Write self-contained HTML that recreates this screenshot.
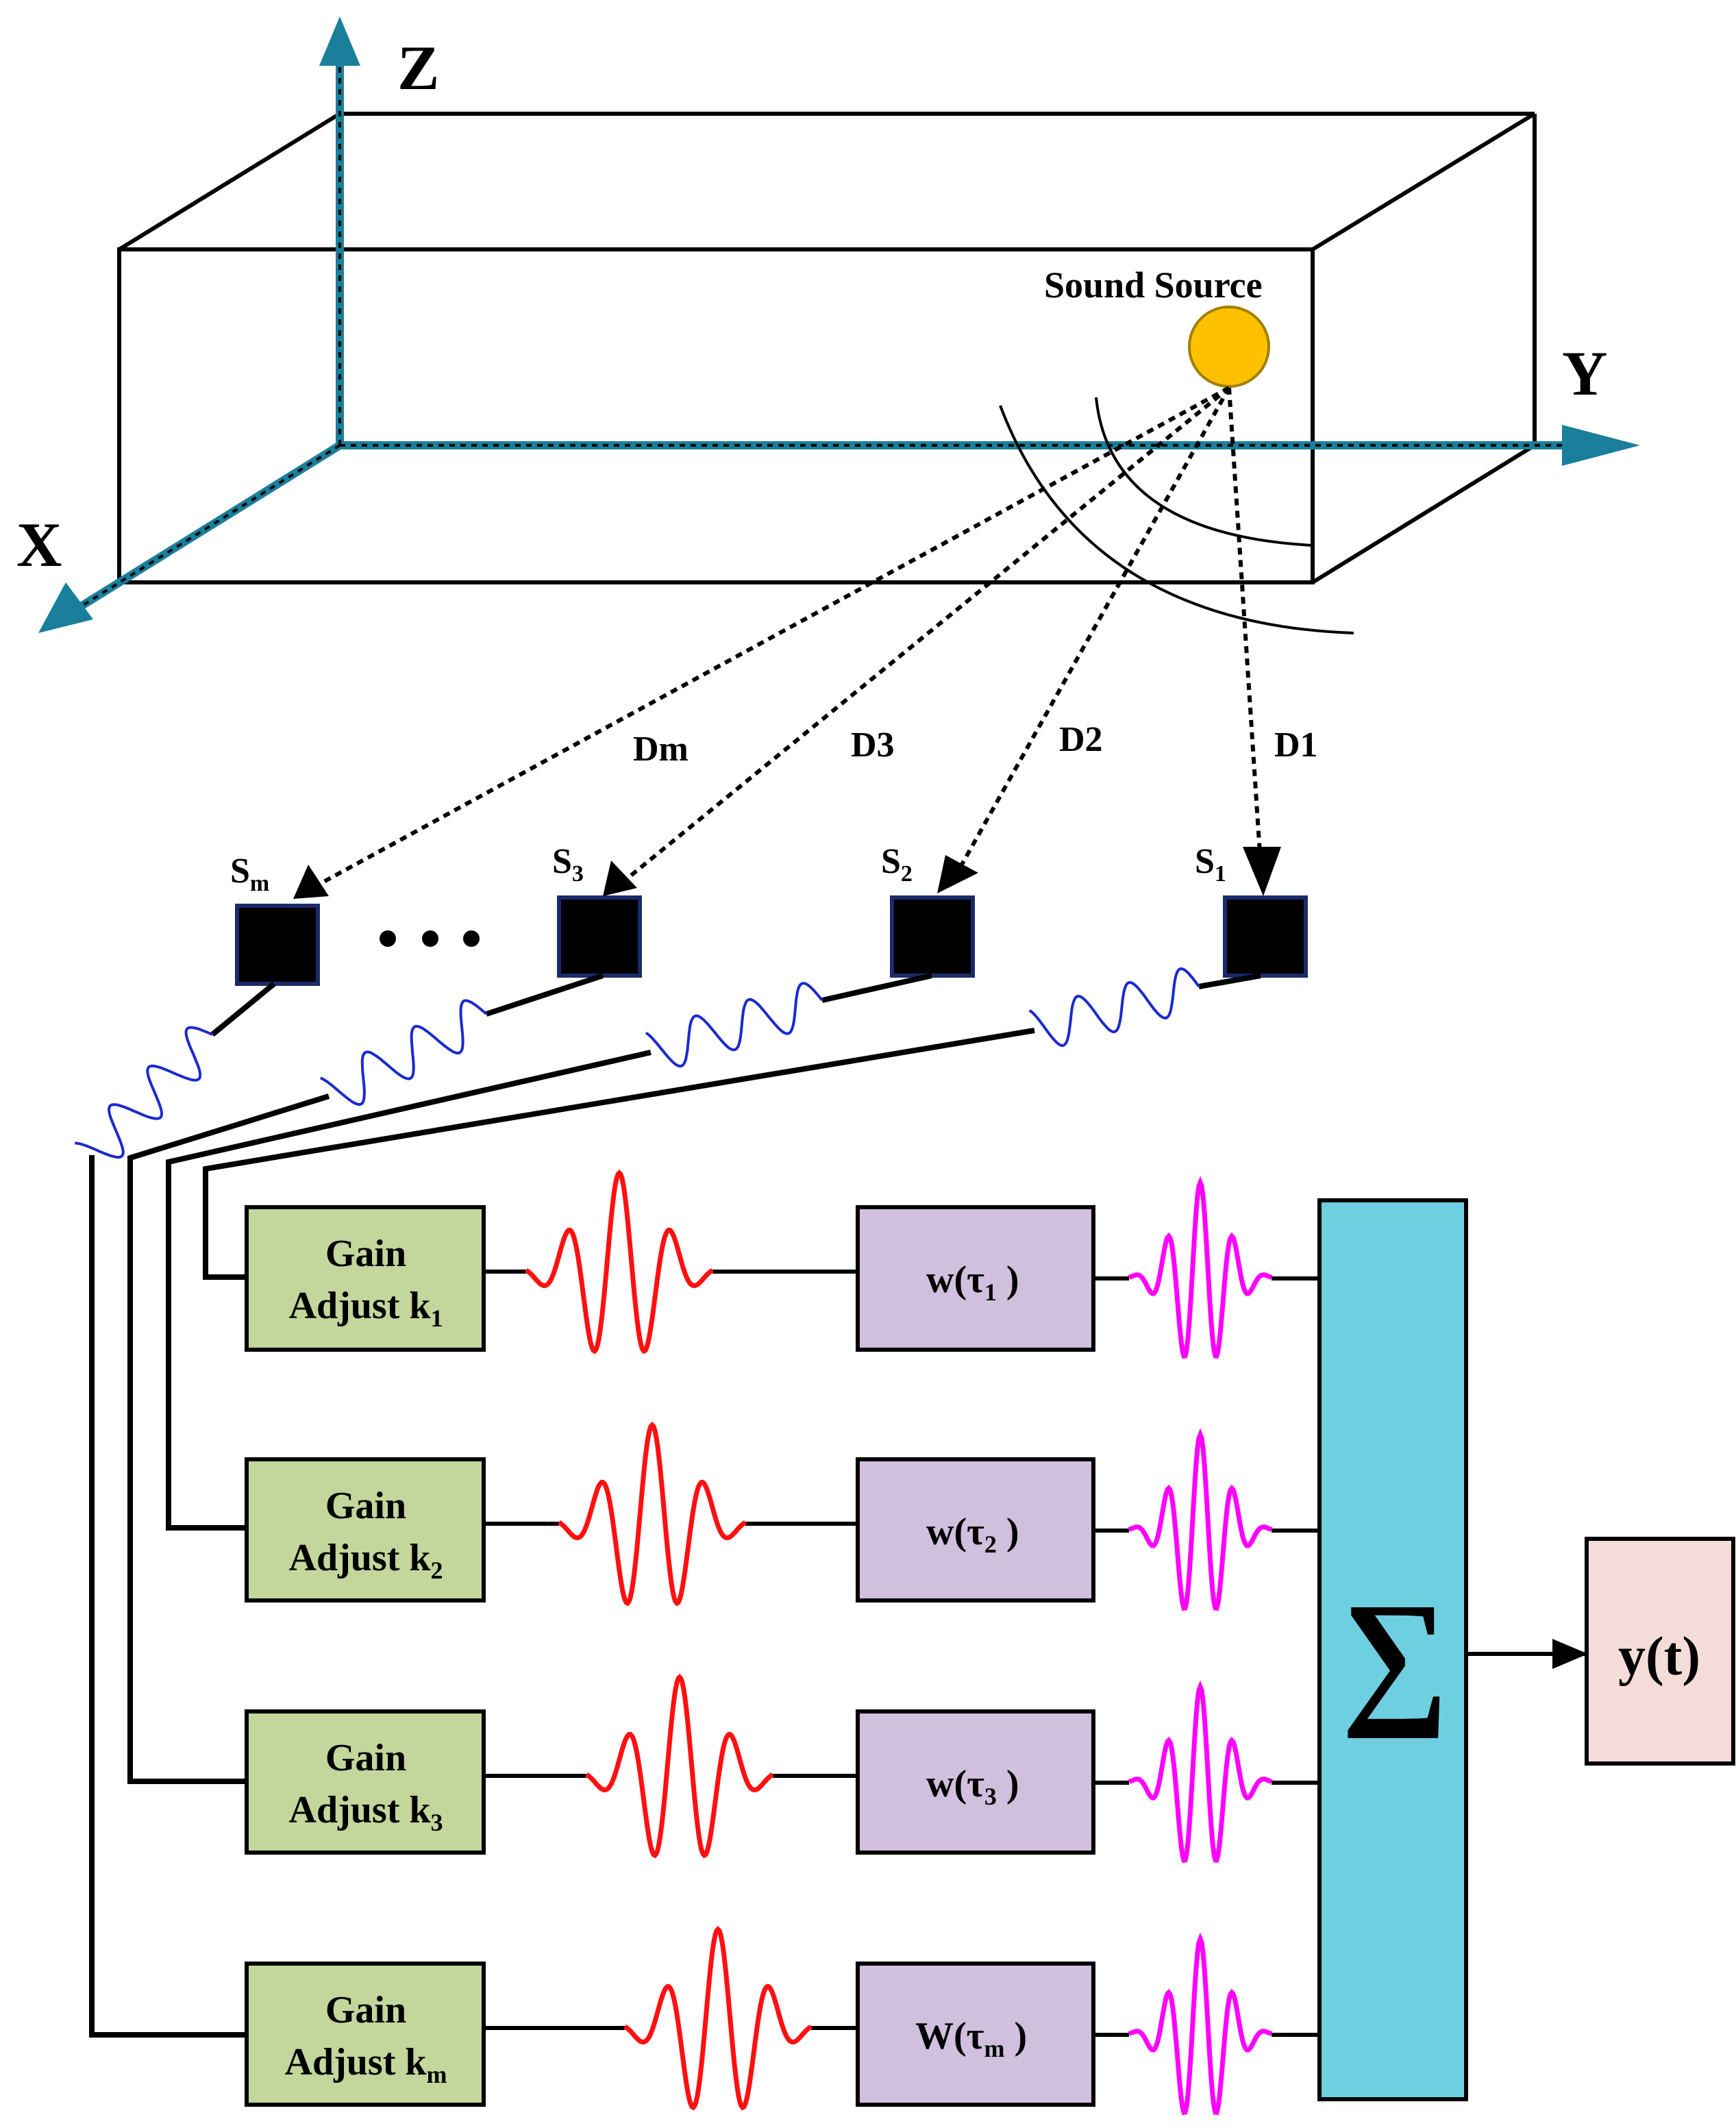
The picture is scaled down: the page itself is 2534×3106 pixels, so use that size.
<!DOCTYPE html>
<html><head><meta charset="utf-8">
<style>
html,body{margin:0;padding:0;background:#fff;}
svg{display:block;}
text{font-family:"Liberation Serif",serif;font-weight:bold;fill:#000;}
</style></head>
<body>
<svg id="s" width="2534" height="3106" viewBox="0 0 1267 1553" xmlns="http://www.w3.org/2000/svg">
<defs>
<marker id="ta" markerWidth="6" markerHeight="6" refX="5" refY="3" orient="auto" markerUnits="strokeWidth"><path d="M0,0 L6,3 L0,6 z" fill="#1a7f9a"/></marker>
<marker id="ba" markerWidth="10" markerHeight="8" refX="9" refY="4" orient="auto" markerUnits="userSpaceOnUse"><path d="M0,0 L10,4 L0,8 z" fill="#000"/></marker>
<marker id="bb" markerWidth="26" markerHeight="22" refX="24" refY="11" orient="auto" markerUnits="userSpaceOnUse"><path d="M0,0 L26,11 L0,22 z" fill="#000"/></marker>
</defs>
<!-- box -->
<g stroke="#000" stroke-width="3" fill="none">
<rect x="87" y="182" width="871" height="243"/>
<line x1="87" y1="182" x2="248" y2="83"/>
<line x1="248" y1="83" x2="1120" y2="83"/>
<line x1="958" y1="182" x2="1120" y2="83"/>
<line x1="1120" y1="83" x2="1120" y2="325"/>
<line x1="958" y1="425" x2="1120" y2="325"/>
</g>
<!-- axes -->
<g stroke="#1a7f9a" stroke-width="6" fill="none">
<line x1="248" y1="325" x2="1165" y2="325"/>
<line x1="248" y1="325" x2="248" y2="45"/>
<line x1="248" y1="325" x2="55" y2="445"/>
</g>
<path d="M1140,310 L1197,325 L1140,340 z" fill="#1a7f9a"/>
<path d="M233,48 L248,12 L263,48 z" fill="#1a7f9a"/>
<path d="M48,425 L28,462 L68,452 z" fill="#1a7f9a"/>
<g stroke="#000" stroke-width="2" stroke-dasharray="4,4" fill="none">
<line x1="248" y1="325" x2="1140" y2="325"/>
<line x1="248" y1="325" x2="248" y2="48"/>
<line x1="248" y1="325" x2="60" y2="442"/>
</g>
<text x="290" y="65" font-size="46">Z</text>
<text x="1140" y="288" font-size="46">Y</text>
<text x="12" y="413" font-size="46">X</text>
<!-- source -->
<text x="762" y="217" font-size="27">Sound Source</text>
<circle cx="897" cy="253" r="29" fill="#ffc000" stroke="#a08000" stroke-width="2"/>
<g stroke="#000" stroke-width="2" fill="none">
<path d="M800,290 Q810,390 958,398"/>
<path d="M730,296 Q790,455 988,462"/>
</g>
<g stroke="#000" stroke-width="3" stroke-dasharray="5,4" fill="none">
<line x1="897" y1="283" x2="228" y2="648"/>
<line x1="897" y1="283" x2="453" y2="645"/>
<line x1="897" y1="283" x2="698" y2="638"/>
<line x1="897" y1="283" x2="920" y2="630"/>
</g>
<path d="M214,656 L225,631 L240,654 z" fill="#000"/>
<path d="M440,654 L446,628 L465,648 z" fill="#000"/>
<path d="M684,652 L690,624 L714,637 z" fill="#000"/>
<path d="M922,654 L907,618 L935,618 z" fill="#000"/>
<text x="462" y="555" font-size="26">Dm</text>
<text x="621" y="552" font-size="26">D3</text>
<text x="773" y="548" font-size="26">D2</text>
<text x="930" y="552" font-size="26">D1</text>
<!-- sensors -->
<g fill="#000" stroke="#1a2a6a" stroke-width="3">
<rect x="173" y="661" width="59" height="57"/>
<rect x="408" y="655" width="59" height="57"/>
<rect x="651" y="655" width="59" height="57"/>
<rect x="894" y="655" width="59" height="57"/>
</g>
<text x="168" y="644" font-size="26">S<tspan font-size="17" dy="6">m</tspan></text>
<text x="403" y="637" font-size="26">S<tspan font-size="17" dy="6">3</tspan></text>
<text x="643" y="637" font-size="26">S<tspan font-size="17" dy="6">2</tspan></text>
<text x="872" y="637" font-size="26">S<tspan font-size="17" dy="6">1</tspan></text>
<circle cx="283" cy="685" r="6"/><circle cx="314" cy="685" r="6"/><circle cx="344" cy="685" r="6"/>
<!-- cables -->
<g stroke="#000" stroke-width="4" fill="none">
<polyline points="200,718 155,755"/>
<polyline points="65,845 67,845 67,1485 180,1485"/>
<polyline points="440,712 355,740"/>
<polyline points="240,800 95,845 95,1300 180,1300"/>
<polyline points="680,712 600,730"/>
<polyline points="475,768 123,848 123,1115 180,1115"/>
<polyline points="920,712 875,720"/>
<polyline points="755,752 150,853 150,932 180,932"/>
</g>
<g id="cw"></g>
<!-- rows -->
<g stroke="#000" stroke-width="3">
<rect x="180" y="881" width="173" height="104" fill="#c3d69b"/>
<rect x="180" y="1065" width="173" height="103" fill="#c3d69b"/>
<rect x="180" y="1249" width="173" height="103" fill="#c3d69b"/>
<rect x="180" y="1433" width="173" height="103" fill="#c3d69b"/>
<rect x="626" y="881" width="172" height="104" fill="#d0bfdd"/>
<rect x="626" y="1065" width="172" height="103" fill="#d0bfdd"/>
<rect x="626" y="1249" width="172" height="103" fill="#d0bfdd"/>
<rect x="626" y="1433" width="172" height="103" fill="#d0bfdd"/>
<rect x="963" y="876" width="107" height="656" fill="#6ecfe0"/>
<rect x="1158" y="1123" width="107" height="164" fill="#f4dcd8"/>
</g>
<g font-size="28" text-anchor="middle">
<text x="267" y="924">Gain</text><text x="267" y="962">Adjust k<tspan font-size="18" dy="6">1</tspan></text>
<text x="267" y="1108">Gain</text><text x="267" y="1146">Adjust k<tspan font-size="18" dy="6">2</tspan></text>
<text x="267" y="1292">Gain</text><text x="267" y="1330">Adjust k<tspan font-size="18" dy="6">3</tspan></text>
<text x="267" y="1476">Gain</text><text x="267" y="1514">Adjust k<tspan font-size="18" dy="6">m</tspan></text>
</g>
<g font-size="28">
<text x="676" y="943">w(τ<tspan font-size="18" dy="6">1</tspan><tspan dy="-6"> )</tspan></text>
<text x="676" y="1127">w(τ<tspan font-size="18" dy="6">2</tspan><tspan dy="-6"> )</tspan></text>
<text x="676" y="1311">w(τ<tspan font-size="18" dy="6">3</tspan><tspan dy="-6"> )</tspan></text>
<text x="668" y="1495">W(τ<tspan font-size="18" dy="6">m</tspan><tspan dy="-6"> )</tspan></text>
</g>
<text x="1018" y="1245" font-size="110" text-anchor="middle" font-weight="normal">∑</text>
<text x="1211" y="1222" font-size="40" text-anchor="middle">y(t)</text>
<line x1="1070" y1="1207" x2="1157" y2="1207" stroke="#000" stroke-width="3" marker-end="url(#bb)"/>
<g id="rw" stroke-width="3.5" fill="none"></g>
</svg>
<script>
var NS="http://www.w3.org/2000/svg";
function add(g,tag,attrs){var e=document.createElementNS(NS,tag);for(var k in attrs)e.setAttribute(k,attrs[k]);g.appendChild(e);return e;}
var rw=document.getElementById('rw');
function packet(x0,x1,c,y,A,lam,s,color,l0,l1){
 var d="M"+l0+","+y+" L"+x0+","+y;
 for(var x=x0;x<=x1;x+=1){var u=x-c;var v=A*Math.exp(-(u/s)*(u/s))*Math.cos(2*Math.PI*u/lam);d+=" L"+x+","+(y-v).toFixed(1);}
 add(rw,'line',{x1:353,y1:y,x2:x0,y2:y,stroke:'#000','stroke-width':3});
 add(rw,'path',{d:d.replace("M"+l0+","+y+" L","M"),stroke:color});
 return d;
}
var rows=[{y:928,rc:452},{y:1112,rc:476},{y:1296,rc:496},{y:1480,rc:524}];
rows.forEach(function(r){
 var x0=r.rc-68,x1=r.rc+68;
 add(rw,'line',{x1:353,y1:r.y,x2:x0,y2:r.y,stroke:'#000','stroke-width':3});
 add(rw,'line',{x1:x1,y1:r.y,x2:626,y2:r.y,stroke:'#000','stroke-width':3});
 var d="";for(var x=x0;x<=x1;x++){var u=x-r.rc;var v=72*Math.exp(-(u/40)*(u/40))*Math.cos(2*Math.PI*u/38);d+=(d?" L":"M")+x+","+(r.y-v).toFixed(1);}
 add(rw,'path',{d:d,stroke:'#ff1010'});
 var c=876,m0=c-52,m1=c+52;
 add(rw,'line',{x1:798,y1:r.y+5,x2:m0,y2:r.y+5,stroke:'#000','stroke-width':3});
 add(rw,'line',{x1:m1,y1:r.y+5,x2:963,y2:r.y+5,stroke:'#000','stroke-width':3});
 d="";for(var x=m0;x<=m1;x++){var u=x-c;var v=70*Math.exp(-(u/26)*(u/26))*Math.cos(2*Math.PI*u/24);d+=(d?" L":"M")+x+","+(r.y+5-v).toFixed(1);}
 add(rw,'path',{d:d,stroke:'#ff00ff'});
});
var cw=document.getElementById('cw');
[[155,755,65,845],[355,740,240,800],[600,730,475,768],[875,720,755,752]].forEach(function(s){
 var dx=s[2]-s[0],dy=s[3]-s[1],L=Math.sqrt(dx*dx+dy*dy),ux=dx/L,uy=dy/L,nx=-uy,ny=ux,d="";
 for(var t=0;t<=L;t+=1){var v=16*Math.sin(2*Math.PI*t/(L/3.2));var x=s[0]+ux*t+nx*v,y=s[1]+uy*t+ny*v;d+=(d?" L":"M")+x.toFixed(1)+","+y.toFixed(1);}
 add(cw,'path',{d:d,stroke:'#1a2ad0','stroke-width':2,fill:'none'});
});
</script>
</body></html>
